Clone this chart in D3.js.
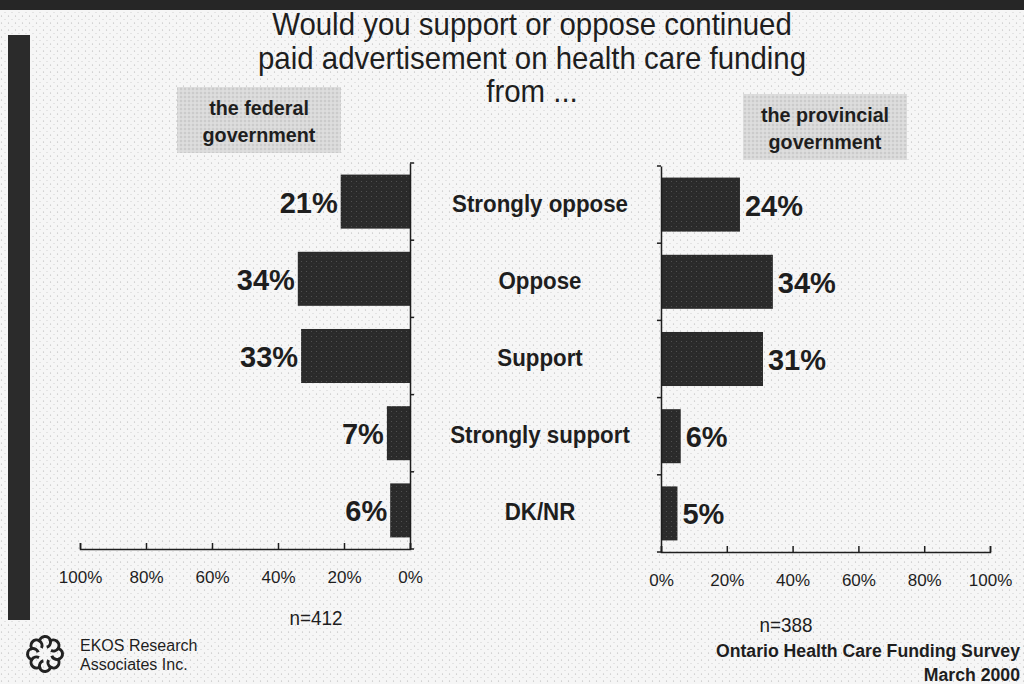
<!DOCTYPE html>
<html>
<head>
<meta charset="utf-8">
<script src="https://cdn.jsdelivr.net/npm/d3@7"></script>
<style>
  html, body { margin: 0; padding: 0; background: #fff; }
  svg { display: block; }
</style>
</head>
<body>
<svg id="chart" width="1024" height="684"></svg>
<script>
// Survey answers, in display order
const categories = ["Strongly oppose", "Oppose", "Support", "Strongly support", "DK/NR"];
// Percent answering, by level of government
const federalValues = [21, 34, 33, 7, 6];
const provincialValues = [24, 34, 31, 6, 5];
const tickValues = [0, 20, 40, 60, 80, 100];
const titleLines = ["Would you support or oppose continued", "paid advertisement on health care funding", "from ..."];
const sampleSizes = ["n=412", "n=388"];

const svg = d3.select("#chart");
const W = 1024, H = 684;
const sans = "'Liberation Sans', Arial, sans-serif";
const ink = "#1e1e1e";

// Condensed lettering: place text at (x, y) and squeeze it horizontally
function squeezed(sel, x, y, sx) {
  return sel.attr("x", 0).attr("y", 0)
    .attr("transform", (d, i) => {
      const xx = typeof x === "function" ? x(d, i) : x;
      const yy = typeof y === "function" ? y(d, i) : y;
      return `translate(${xx},${yy}) scale(${sx},1)`;
    });
}

// Paper background with fine speckle
const defs = svg.append("defs");
const pat = defs.append("pattern").attr("id", "speckle").attr("width", 7).attr("height", 7)
  .attr("patternUnits", "userSpaceOnUse");
pat.append("rect").attr("width", 7).attr("height", 7).attr("fill", "#f6f6f6");
pat.append("circle").attr("cx", 1.5).attr("cy", 2).attr("r", 0.6).attr("fill", "#b0b0b0");
pat.append("circle").attr("cx", 5).attr("cy", 5.5).attr("r", 0.5).attr("fill", "#c4c4c4");
const boxPat = defs.append("pattern").attr("id", "boxgrain").attr("width", 4).attr("height", 4)
  .attr("patternUnits", "userSpaceOnUse");
boxPat.append("rect").attr("width", 4).attr("height", 4).attr("fill", "#dadada");
boxPat.append("circle").attr("cx", 1).attr("cy", 1).attr("r", 0.7).attr("fill", "#b0b0b0");
boxPat.append("circle").attr("cx", 3).attr("cy", 3).attr("r", 0.5).attr("fill", "#eeeeee");
const barPat = defs.append("pattern").attr("id", "bargrain").attr("width", 5).attr("height", 5)
  .attr("patternUnits", "userSpaceOnUse");
barPat.append("rect").attr("width", 5).attr("height", 5).attr("fill", "#2a2a2a");
barPat.append("circle").attr("cx", 1.5).attr("cy", 1.5).attr("r", 0.6).attr("fill", "#555");
barPat.append("circle").attr("cx", 4).attr("cy", 3.5).attr("r", 0.4).attr("fill", "#4a4a4a");

svg.append("rect").attr("width", W).attr("height", H).attr("fill", "url(#speckle)");

// Dark scan edges
svg.append("rect").attr("x", 0).attr("y", 0).attr("width", W).attr("height", 10).attr("fill", "#262626");
svg.append("rect").attr("x", 8).attr("y", 35).attr("width", 22).attr("height", 585).attr("fill", "#2b2b2b");

// Title
squeezed(svg.append("g").selectAll("text").data(titleLines).join("text"),
    532, (d, i) => 35 + i * 33.5, 0.92)
  .attr("text-anchor", "middle")
  .attr("font-family", sans).attr("font-size", 32).attr("fill", ink)
  .text(d => d);

// Panel caption boxes
function captionBox(x, y, w, h, lines) {
  const g = svg.append("g");
  g.append("rect").attr("x", x).attr("y", y).attr("width", w).attr("height", h).attr("fill", "url(#boxgrain)");
  squeezed(g.selectAll("text").data(lines).join("text"),
      x + w / 2, (d, i) => y + 28 + i * 27, 0.94)
    .attr("text-anchor", "middle")
    .attr("font-family", sans).attr("font-weight", "bold").attr("font-size", 21).attr("fill", ink)
    .text(d => d);
}
captionBox(177, 87, 164, 66, ["the federal", "government"]);
captionBox(743, 94, 164, 66, ["the provincial", "government"]);

// Left panel: bars grow leftward from 0%
const xLeft = d3.scaleLinear().domain([0, 100]).range([410, 80]);
const yLeft = d3.scaleBand().domain(categories).range([163, 549]).paddingInner(0.3).paddingOuter(0.15);
// Right panel: bars grow rightward from 0%
const xRight = d3.scaleLinear().domain([0, 100]).range([661, 990]);
const yRight = d3.scaleBand().domain(categories).range([166, 552]).paddingInner(0.3).paddingOuter(0.15);

function drawPanel(x, y, values, side) {
  const g = svg.append("g");
  const base = x(0);
  g.selectAll("rect.bar").data(values).join("rect")
    .attr("class", "bar")
    .attr("x", d => Math.min(x(d), base))
    .attr("y", (d, i) => y(categories[i]))
    .attr("width", d => Math.abs(x(d) - base))
    .attr("height", y.bandwidth())
    .attr("fill", "url(#bargrain)");

  // Value labels
  g.selectAll("text.val").data(values).join("text")
    .attr("class", "val")
    .attr("x", d => side === "left" ? x(d) - 3 : x(d) + 5)
    .attr("y", (d, i) => y(categories[i]) + y.bandwidth() / 2 + 11)
    .attr("text-anchor", side === "left" ? "end" : "start")
    .attr("font-family", sans).attr("font-weight", "bold").attr("font-size", 29).attr("fill", ink)
    .text(d => d + "%");

  // Category axis (vertical line at 0%, with band ticks)
  const yr = y.range();
  const yAxis = side === "left" ? d3.axisRight(y) : d3.axisLeft(y);
  const yg = g.append("g").attr("transform", `translate(${base},0)`)
    .call(yAxis.tickSize(0).tickFormat(""));
  yg.select(".domain").attr("stroke", ink).attr("stroke-width", 1.5);
  const bounds = d3.range(categories.length + 1).map(i => yr[0] + i * (yr[1] - yr[0]) / categories.length);
  g.selectAll("line.bt").data(bounds).join("line")
    .attr("x1", base).attr("x2", side === "left" ? base + 4 : base - 4)
    .attr("y1", d => d).attr("y2", d => d)
    .attr("stroke", ink).attr("stroke-width", 1.5);

  // Percentage axis
  const xg = g.append("g").attr("transform", `translate(0,${yr[1]})`)
    .call(d3.axisBottom(x).tickValues(tickValues).tickFormat(d => d + "%").tickSize(-6).tickPadding(22));
  xg.select(".domain").attr("stroke", ink).attr("stroke-width", 1.5);
  xg.selectAll(".tick line").attr("stroke", ink).attr("stroke-width", 1.5);
  xg.selectAll(".tick text").attr("font-family", sans).attr("font-size", 17).attr("fill", ink);
  return g;
}
drawPanel(xLeft, yLeft, federalValues, "left");
drawPanel(xRight, yRight, provincialValues, "right");

// Category labels in the centre column
squeezed(svg.append("g").selectAll("text").data(categories).join("text"),
    540, d => yLeft(d) + yLeft.bandwidth() / 2 + 10, 0.93)
  .attr("text-anchor", "middle")
  .attr("font-family", sans).attr("font-weight", "bold").attr("font-size", 24).attr("fill", ink)
  .text(d => d);

// Sample sizes
squeezed(svg.append("text"), 316, 625, 0.9).attr("text-anchor", "middle")
  .attr("font-family", sans).attr("font-size", 21).attr("fill", ink).text(sampleSizes[0]);
squeezed(svg.append("text"), 786, 632, 0.9).attr("text-anchor", "middle")
  .attr("font-family", sans).attr("font-size", 21).attr("fill", ink).text(sampleSizes[1]);

// Footer: source and date
squeezed(svg.append("text"), 1020, 657, 0.93).attr("text-anchor", "end")
  .attr("font-family", sans).attr("font-weight", "bold").attr("font-size", 19).attr("fill", ink)
  .text("Ontario Health Care Funding Survey");
squeezed(svg.append("text"), 1020, 681, 0.93).attr("text-anchor", "end")
  .attr("font-family", sans).attr("font-weight", "bold").attr("font-size", 19).attr("fill", ink)
  .text("March 2000");

// Footer: firm name and ring logo
const logo = svg.append("g").attr("transform", "translate(45,654)");
d3.range(8).forEach(i => {
  const a = i / 8 * 2 * Math.PI;
  logo.append("path")
    .attr("d", d3.arc()({ innerRadius: 4, outerRadius: 7, startAngle: 0, endAngle: Math.PI * 1.4 }))
    .attr("transform", `translate(${12 * Math.cos(a)},${12 * Math.sin(a)}) rotate(${i * 45})`)
    .attr("fill", "#222");
});
svg.append("text").attr("x", 80).attr("y", 651)
  .attr("font-family", sans).attr("font-size", 16).attr("fill", ink).text("EKOS Research");
svg.append("text").attr("x", 80).attr("y", 670)
  .attr("font-family", sans).attr("font-size", 16).attr("fill", ink).text("Associates Inc.");
</script>
</body>
</html>
